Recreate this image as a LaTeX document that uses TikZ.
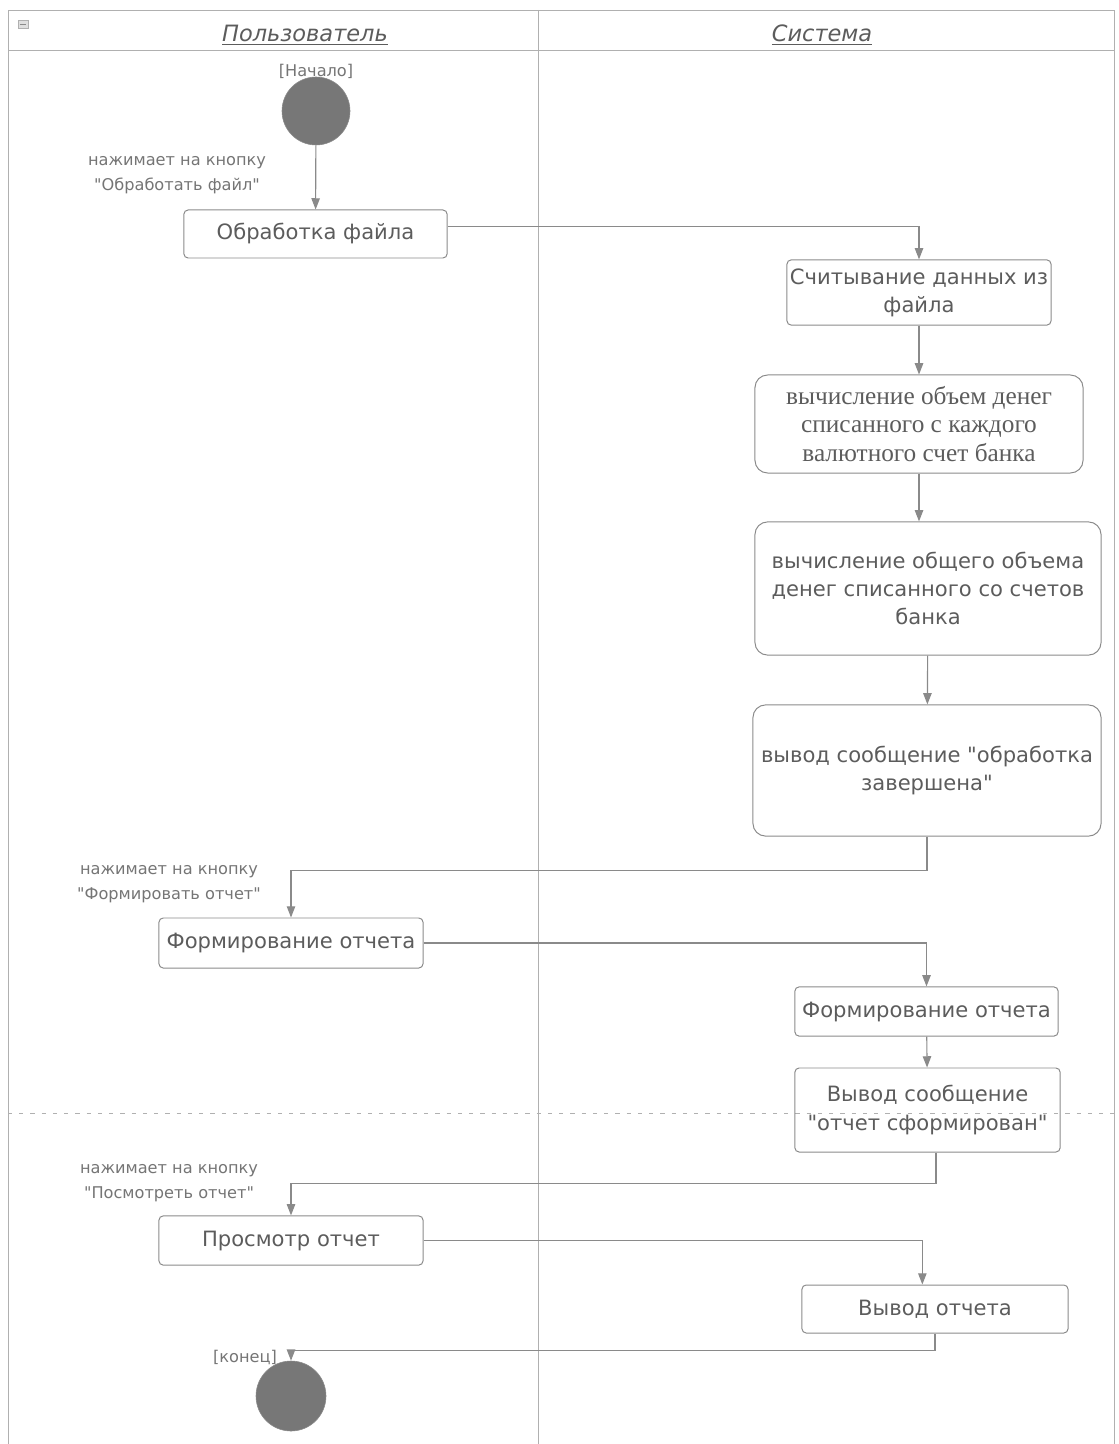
\documentclass[tikz,border=0pt]{standalone}
\usepackage{fontspec}
\setmainfont{DejaVu Sans}
\newfontfamily\uifont{DejaVu Sans}
\newfontfamily\serifbox{Liberation Serif}
\usetikzlibrary{arrows.meta, positioning, calc}
\definecolor{uline}{HTML}{8A8A8A}
\definecolor{utext}{HTML}{5C5C5C}
\definecolor{ulane}{HTML}{B0B0B0}
\definecolor{udot}{HTML}{777777}

\begin{document}
\begin{tikzpicture}[
  x=0.025cm, y=-0.025cm,
  every node/.style={text=utext},
  act/.style={rectangle, rounded corners=3pt, draw=uline, line width=0.7pt, align=center, inner sep=0pt, font=\uifont\fontsize{15}{20}\selectfont},
  bigact/.style={act, rounded corners=9pt},
  flow/.style={draw=uline, line width=0.8pt, -{Triangle[length=8pt,width=6pt]}},
  hint/.style={align=center, text=utext!85, font=\uifont\fontsize{11.5}{17.5}\selectfont},
  lanetitle/.style={font=\uifont\fontsize{16}{20}\selectfont\itshape},
  pin/.style={circle, fill=udot, draw=uline, inner sep=0pt},
  lane/.style={draw=ulane, line width=0.6pt},
]
\useasboundingbox (0,0) rectangle (1118,1444);

\draw[lane] (8,10) rectangle (1114,1444);
\draw[lane] (8,50) -- (1114,50);
\draw[lane] (538,10) -- (538,1444);
\draw[lane, dash pattern=on 3pt off 5pt] (8,1113) -- (1114,1113);
\node[draw=ulane, fill=ulane!40, minimum width=0.25cm, minimum height=0.2cm, inner sep=0pt] (fold) at (23,24) {};
\draw[uline] ($(fold.west)+(2,0)$) -- ($(fold.east)+(-2,0)$);

\node[lanetitle] (userlane) at (305,35) {\underline{Пользователь}};
\node[lanetitle] (syslane) at (822,35) {\underline{Система}};

\node[pin, minimum size=1.7cm] (start) at (316,111) {};
\node[hint] (startlbl) at (316,71) {[Начало]};

\node[act, minimum width=6.58cm, minimum height=1.2cm] (load) at (315.5,234) {Обработка файла};
\node[act, minimum width=6.6cm, minimum height=1.63cm] (read) at (919,292.5) {Считывание данных из\\файла};
\node[bigact, minimum width=8.2cm, minimum height=2.45cm, font=\serifbox\fontsize{18}{20}\selectfont] (calc1) at (919,424) {вычисление объем денег\\списанного с каждого\\валютного счет банка};
\node[bigact, minimum width=8.65cm, minimum height=3.33cm] (calc2) at (928,588.5) {вычисление общего объема\\денег списанного со счетов\\банка};
\node[bigact, minimum width=8.7cm, minimum height=3.28cm] (done) at (927,770.5) {вывод сообщение "обработка\\завершена"};

\node[act, minimum width=6.6cm, minimum height=1.25cm] (mkrep) at (291,943) {Формирование отчета};
\node[act, minimum width=6.58cm, minimum height=1.23cm] (sysrep) at (926.5,1011.5) {Формирование отчета};
\node[act, minimum width=6.63cm, minimum height=2.1cm] (repmsg) at (927.5,1110) {Вывод сообщение\\"отчет сформирован"};

\node[act, minimum width=6.6cm, minimum height=1.23cm] (view) at (291,1240.5) {Просмотр отчет};
\node[act, minimum width=6.65cm, minimum height=1.2cm] (show) at (935,1309) {Вывод отчета};

\node[pin, minimum size=1.75cm] (stop) at (291,1396) {};
\node[hint] (stoplbl) at (245,1357) {[конец]};

\node[hint] (hint1) at (177,175) {нажимает на кнопку\\"Обработать файл"};
\node[hint] (hint2) at (169,884) {нажимает на кнопку\\"Формировать отчет"};
\node[hint] (hint3) at (169,1183) {нажимает на кнопку\\"Посмотреть отчет"};

\draw[flow] (start) -- (load);
\draw[flow] ([yshift=5.5pt]load.east) -| (read.north);
\draw[flow] (read) -- (calc1);
\draw[flow] (calc1.south) -- (calc1.south |- calc2.north);
\draw[flow] (calc2) -- (done);
\draw[flow] (done.south) -- ++(0,34) -| (mkrep.north);
\draw[flow] (mkrep.east) -| (sysrep.north);
\draw[flow] (sysrep) -- (repmsg);
\draw[flow] ([xshift=6pt]repmsg.south) -- ++(0,31) -| (view.north);
\draw[flow] (view.east) -| ([xshift=-9pt]show.north);
\draw[flow] (show.south) -- ++(0,17) -| (stop.north);
\end{tikzpicture}
\end{document}
